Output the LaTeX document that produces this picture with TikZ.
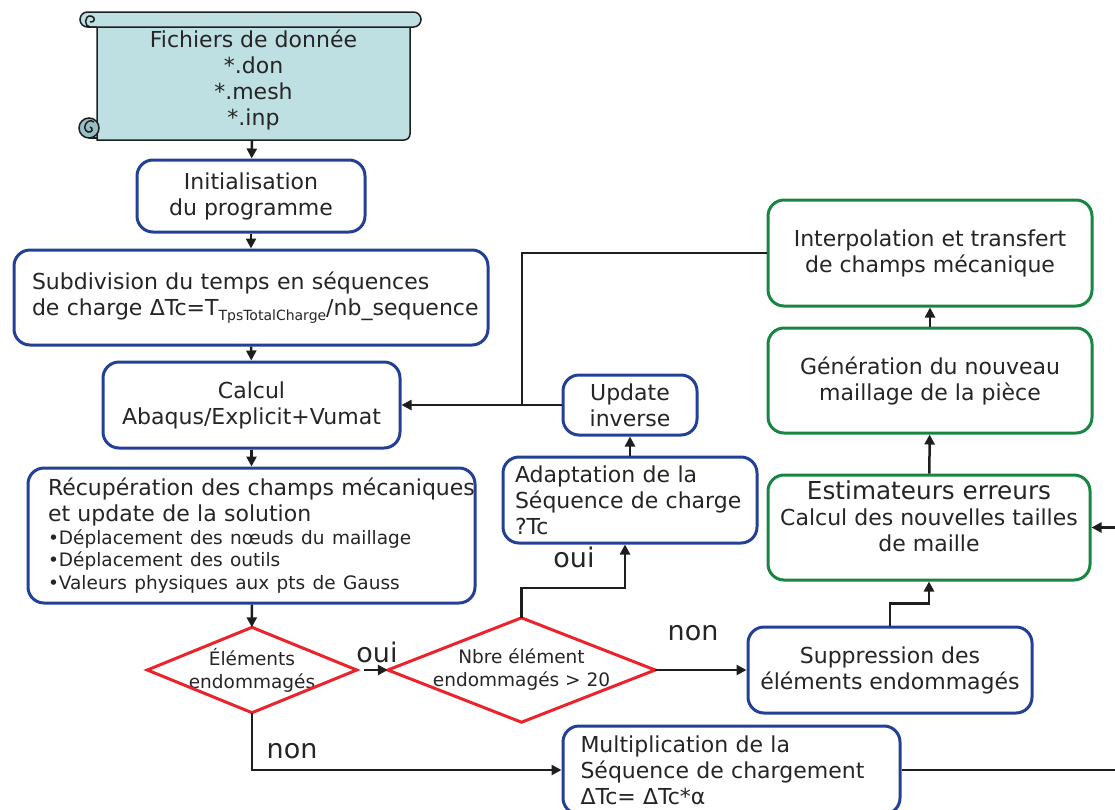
\documentclass[tikz,border=0pt]{standalone}
\usepackage{fontspec}
\setmainfont{DejaVu Sans}
\usetikzlibrary{arrows.meta}
\definecolor{boxblue}{RGB}{35,64,150}
\definecolor{boxgreen}{RGB}{24,134,66}
\definecolor{diared}{RGB}{234,36,42}
\definecolor{scrollfill}{RGB}{190,224,227}
\definecolor{scrolldark}{RGB}{150,190,195}
\definecolor{linec}{RGB}{30,30,30}
\definecolor{txt}{RGB}{38,36,36}

\begin{document}
\begin{tikzpicture}[x=1pt,y=-1pt]
\tikzstyle{every node}+=[inner sep=0pt, text=txt]
\tikzstyle{bluebox}=[draw=boxblue, line width=3pt, rounded corners=16pt, fill=white, font=\fontsize{22}{26}\selectfont, align=center]
\tikzstyle{greenbox}=[bluebox, draw=boxgreen]
\tikzstyle{test}=[font=\fontsize{18.5}{23}\selectfont, align=center]
\tikzstyle{testline}=[draw=diared, line width=3pt]
\tikzstyle{arr}=[line width=2.5pt, draw=linec, -{Triangle[length=10pt,width=10pt]}]
\tikzstyle{wire}=[line width=2.5pt, draw=linec]
\tikzstyle{answer}=[font=\fontsize{27}{30}\selectfont]
\tikzstyle{scroll}=[fill=scrollfill, draw=linec, line width=1.5pt]
\useasboundingbox (0,0) rectangle (1115,809);
\clip (0,0) rectangle (1115,809);

\filldraw[scroll] (97,20) -- (97,140) [rounded corners=6pt] -- (410,140) -- (410,20) [sharp corners] -- cycle;
\filldraw[scroll, rounded corners=7.5pt] (80,12) rectangle (421,27);
\draw[linec, line width=1.5pt] (97,27) -- (90,27) .. controls (84,27) and (84,15) .. (91,16) .. controls (96,17) and (95,23) .. (90,22);
\filldraw[scroll, fill=scrolldark] (89,128) circle (10);
\draw[linec, line width=1.5pt] (89,138) -- (97,138);
\draw[linec, line width=1.5pt] (94,122) .. controls (87,117) and (81,129) .. (88,132) .. controls (92,133) and (94,128) .. (90,127);
\node[font=\fontsize{22}{26}\selectfont, align=center] (data) at (253.5,80) {Fichiers de donnée\\*.don\\*.mesh\\*.inp};
\coordinate (dataout) at (252,140);

\node[bluebox, minimum width=228pt, minimum height=72pt] (init) at (251,196) {Initialisation\\du programme};
\node[bluebox, minimum width=474pt, minimum height=95pt, text width=438pt, align=left] (subdiv) at (251,297.5) {\mbox{Subdivision du temps en séquences}\\\mbox{de charge ΔTc=T\raisebox{-5pt}{\fontsize{14}{14}\selectfont TpsTotalCharge}/nb\_sequence}};
\node[bluebox, minimum width=297pt, minimum height=86pt] (calcul) at (251.5,405) {Calcul\\Abaqus/Explicit+Vumat};
\node[bluebox, minimum width=447pt, minimum height=135pt, text width=407pt, align=left] (recup) at (251.5,535.5) {\mbox{Récupération des champs mécaniques}\\\mbox{et update de la solution}\\[-3pt]{\fontsize{18.5}{22.5}\selectfont \mbox{•Déplacement des nœuds du maillage}}\\[-3.5pt]{\fontsize{18.5}{22.5}\selectfont \mbox{•Déplacement des outils}}\\[-3.5pt]{\fontsize{18.5}{22.5}\selectfont \mbox{•Valeurs physiques aux pts de Gauss}}};
\node[test, minimum width=209pt, minimum height=85pt] (dmg) at (252,670) {Éléments\\endommagés};
\draw[testline] (dmg.north) -- (dmg.east) -- (dmg.south) -- (dmg.west) -- cycle;
\node[test, minimum width=267pt, minimum height=104pt] (nbre) at (521.5,670) {Nbre élément\\endommagés > 20};
\draw[testline] (nbre.north) -- (nbre.east) -- (nbre.south) -- (nbre.west) -- cycle;
\node[bluebox, minimum width=284pt, minimum height=86pt] (supp) at (890,670) {Suppression des\\éléments endommagés};
\node[greenbox, minimum width=322pt, minimum height=105pt] (estim) at (929,527.5) {{\fontsize{24.7}{28}\selectfont Estimateurs erreurs}\\Calcul des nouvelles tailles\\de maille\\[-4pt]\mbox{}};
\node[greenbox, minimum width=324pt, minimum height=105pt] (gener) at (930,380.5) {Génération du nouveau\\maillage de la pièce};
\node[greenbox, minimum width=324pt, minimum height=106pt] (interp) at (930,253) {Interpolation et transfert\\de champs mécanique};
\node[bluebox, minimum width=134pt, minimum height=60pt] (update) at (630,405) {Update\\inverse};
\node[bluebox, minimum width=254pt, minimum height=86pt, text width=230pt, align=left] (adapt) at (630,500) {\mbox{Adaptation de la}\\\mbox{Séquence de charge}\\?Tc};
\node[bluebox, minimum width=337pt, minimum height=88pt, text width=302pt, align=left] (multi) at (731.5,770) {\mbox{Multiplication de la}\\\mbox{Séquence de chargement}\\ΔTc= ΔTc*α};

\coordinate (jn) at (522,405);
\coordinate (rin) at (1120,527.5);
\coordinate (rout) at (1120,770);

\draw[arr] (dataout) -- (init);
\draw[arr] (init) -- (subdiv);
\draw[arr] (subdiv) -- (calcul);
\draw[arr] (calcul) -- (recup);
\draw[arr] (recup) -- (dmg);
\draw[arr, shorten <=7pt] (dmg.east) -- (nbre.west);
\draw[arr] (nbre.north) -- ++(0,-30) -| ([xshift=-5pt]adapt.south);
\draw[arr] (adapt) -- (update);
\draw[wire] (update.west) -- (jn);
\draw[wire] (interp.west) -| (jn);
\draw[arr] (jn) -- (calcul.east);
\draw[arr] (nbre.east) -- (supp.west);
\draw[arr] (supp.north) -- ++(0,-22) -| (estim.south);
\draw[arr] (rin) -- (estim.east);
\draw[arr] (estim) -- (gener);
\draw[arr] (gener) -- (interp);
\draw[arr] (dmg.south) |- (multi.west);
\draw[wire] (multi.east) -- (rout);

\node[answer] (oui1) at (377,652) {oui};
\node[answer] (oui2) at (574,557) {oui};
\node[answer] (non1) at (693,633) {non};
\node[answer] (non2) at (292,751) {non};
\end{tikzpicture}
\end{document}
